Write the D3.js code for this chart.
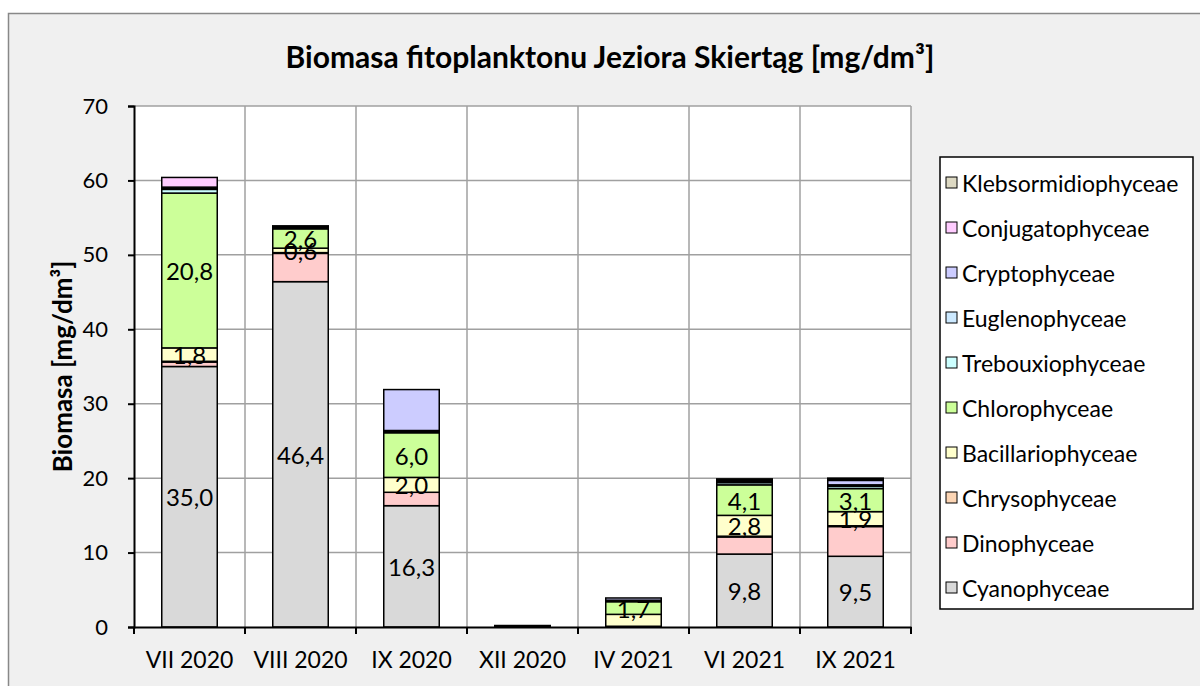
<!DOCTYPE html>
<html>
<head>
<meta charset="utf-8">
<script src="https://cdn.jsdelivr.net/npm/d3@7"></script>
<style>
  html, body { margin: 0; padding: 0; background: #ffffff; }
  svg { display: block; }
  text { font-family: Lato, "Open Sans", sans-serif; }
</style>
</head>
<body>
<svg id="chart" width="1200" height="686"></svg>
<script>
const title = "Biomasa fitoplanktonu Jeziora Skiertąg [mg/dm³]";
const yAxisTitle = "Biomasa [mg/dm³]";
const categories = ["VII 2020", "VIII 2020", "IX 2020", "XII 2020", "IV 2021", "VI 2021", "IX 2021"];
const seriesNames = ["Cyanophyceae", "Dinophyceae", "Chrysophyceae", "Bacillariophyceae", "Chlorophyceae",
  "Trebouxiophyceae", "Euglenophyceae", "Cryptophyceae", "Conjugatophyceae", "Klebsormidiophyceae"];
const seriesColors = ["#d9d9d9", "#ffcccc", "#fcd5b4", "#ffffcc", "#ccff99",
  "#ccffff", "#cce9ff", "#ccccff", "#ffccff", "#ddd9c3"];
const cyanophyceae      = [35.0, 46.4, 16.3, 0.1, 0.0, 9.8, 9.5];
const dinophyceae       = [0.6, 3.8, 1.8, 0.0, 0.0, 2.3, 4.0];
const chrysophyceae     = [0.1, 0.1, 0.0, 0.0, 0.1, 0.1, 0.1];
const bacillariophyceae = [1.8, 0.6, 2.0, 0.1, 1.6, 2.8, 1.9];
const chlorophyceae     = [20.8, 2.6, 6.0, 0.0, 1.7, 4.1, 3.1];
const trebouxiophyceae  = [0.5, 0.1, 0.2, 0.0, 0.1, 0.3, 0.3];
const euglenophyceae    = [0.1, 0.1, 0.1, 0.0, 0.1, 0.1, 0.2];
const cryptophyceae     = [0.2, 0.2, 5.5, 0.0, 0.3, 0.2, 0.6];
const conjugatophyceae  = [1.3, 0.0, 0.0, 0.0, 0.0, 0.1, 0.2];
const klebsormidiophyceae = [0.0, 0.0, 0.0, 0.0, 0.0, 0.1, 0.1];
const yTicks = [0, 10, 20, 30, 40, 50, 60, 70];
// data labels shown for these series (values >= 0.5), except the hidden pairs
const labelledSeries = ["Cyanophyceae", "Bacillariophyceae", "Chlorophyceae"];
const hiddenLabels = [["IV 2021", "Bacillariophyceae"]];

const seriesValues = [cyanophyceae, dinophyceae, chrysophyceae, bacillariophyceae, chlorophyceae,
  trebouxiophyceae, euglenophyceae, cryptophyceae, conjugatophyceae, klebsormidiophyceae];

const rows = categories.map((c, i) => {
  const r = { cat: c };
  seriesNames.forEach((s, j) => r[s] = seriesValues[j][i]);
  return r;
});
const stacked = d3.stack().keys(seriesNames)(rows);

const svg = d3.select("#chart");
const W = 1200, H = 686;
const plot = { left: 134, right: 911, top: 106, bottom: 627 };

// outer chart area
svg.append("rect").attr("x", 8.5).attr("y", 13.5).attr("width", W).attr("height", H)
  .attr("fill", "#f0f0f0").attr("stroke", "#888888").attr("stroke-width", 1.5);

const x = d3.scaleBand().domain(categories).range([plot.left, plot.right]).paddingInner(0.5).paddingOuter(0.25);
const y = d3.scaleLinear().domain([0, 70]).range([plot.bottom, plot.top]);

// plot background
svg.append("rect").attr("x", plot.left).attr("y", plot.top)
  .attr("width", plot.right - plot.left).attr("height", plot.bottom - plot.top).attr("fill", "#ffffff");

// horizontal gridlines
svg.append("g").selectAll("line").data(yTicks.filter(t => t > 0)).join("line")
  .attr("x1", plot.left).attr("x2", plot.right)
  .attr("y1", d => y(d)).attr("y2", d => y(d))
  .attr("stroke", "#a0a0a0").attr("stroke-width", 1.5);

// vertical gridlines at category boundaries
const step = x.step();
const boundaries = d3.range(1, categories.length + 1).map(i => plot.left + i * step);
svg.append("g").selectAll("line").data(boundaries).join("line")
  .attr("x1", d => d).attr("x2", d => d)
  .attr("y1", plot.top).attr("y2", plot.bottom)
  .attr("stroke", "#a0a0a0").attr("stroke-width", 1.5);

// bars
const gBars = svg.append("g");
stacked.forEach((layer, j) => {
  gBars.append("g").selectAll("rect").data(layer.filter(d => d[1] - d[0] > 0)).join("rect")
    .attr("x", d => x(d.data.cat))
    .attr("width", x.bandwidth())
    .attr("y", d => y(d[1]))
    .attr("height", d => y(d[0]) - y(d[1]))
    .attr("fill", seriesColors[j])
    .attr("stroke", "#000000").attr("stroke-width", 1.5);
});

// data labels
const fmt = v => v.toFixed(1).replace(".", ",");
stacked.forEach((layer) => {
  const key = layer.key;
  if (!labelledSeries.includes(key)) return;
  const pts = layer.filter(d => (d[1] - d[0]) >= 0.5 &&
    !hiddenLabels.some(h => h[0] === d.data.cat && h[1] === key));
  svg.append("g").selectAll("text").data(pts).join("text")
    .attr("x", d => x(d.data.cat) + x.bandwidth() / 2)
    .attr("y", d => y((d[0] + d[1]) / 2))
    .attr("text-anchor", "middle").attr("dominant-baseline", "central")
    .attr("font-size", 24).attr("fill", "#000")
    .text(d => fmt(d.data[key]));
});

// y axis
const yAxis = d3.axisLeft(y).tickValues(yTicks).tickSize(6).tickPadding(20).tickFormat(d3.format("d"));
const gy = svg.append("g").attr("transform", `translate(${plot.left},0)`).call(yAxis);
gy.select(".domain").attr("stroke", "#000").attr("stroke-width", 2);
gy.selectAll(".tick line").attr("stroke", "#000").attr("stroke-width", 2);
gy.selectAll(".tick text").attr("font-size", 22).attr("font-family", "Lato").attr("fill", "#000");

// x axis
const xAxis = d3.axisBottom(x).tickSize(0).tickPadding(25);
const gx = svg.append("g").attr("transform", `translate(0,${plot.bottom})`).call(xAxis);
gx.select(".domain").attr("stroke", "#000").attr("stroke-width", 2);
gx.selectAll(".tick text").attr("font-size", 23).attr("font-family", "Lato").attr("fill", "#000");
// boundary tick marks below x axis
svg.append("g").selectAll("line").data([plot.left].concat(boundaries)).join("line")
  .attr("x1", d => d).attr("x2", d => d)
  .attr("y1", plot.bottom).attr("y2", plot.bottom + 7)
  .attr("stroke", "#000").attr("stroke-width", 2);

// title
svg.append("text").attr("x", 610).attr("y", 56)
  .attr("text-anchor", "middle").attr("dominant-baseline", "central")
  .attr("font-size", 30).attr("font-weight", "bold").attr("fill", "#000")
  .text(title);

// y axis title
svg.append("text")
  .attr("transform", `translate(62,${(plot.top + plot.bottom) / 2}) rotate(-90)`)
  .attr("text-anchor", "middle").attr("dominant-baseline", "central")
  .attr("font-size", 26).attr("font-weight", "bold").attr("fill", "#000")
  .text(yAxisTitle);

// legend
const legend = { x: 940, y: 157, w: 253, h: 452 };
svg.append("rect").attr("x", legend.x).attr("y", legend.y).attr("width", legend.w).attr("height", legend.h)
  .attr("fill", "#ffffff").attr("stroke", "#000").attr("stroke-width", 1.5);
const legendOrder = seriesNames.map((s, i) => ({ name: s, color: seriesColors[i] })).reverse();
const ly = d3.scalePoint().domain(legendOrder.map(d => d.name)).range([183, 588]);
const gl = svg.append("g").selectAll("g").data(legendOrder).join("g")
  .attr("transform", d => `translate(${legend.x + 6},${ly(d.name)})`);
gl.append("rect").attr("x", 0).attr("y", -6).attr("width", 11).attr("height", 11)
  .attr("fill", d => d.color).attr("stroke", "#000").attr("stroke-width", 1);
gl.append("text").attr("x", 16).attr("y", 0).attr("dominant-baseline", "central")
  .attr("font-size", 23).attr("fill", "#000").text(d => d.name);
</script>
</body>
</html>
